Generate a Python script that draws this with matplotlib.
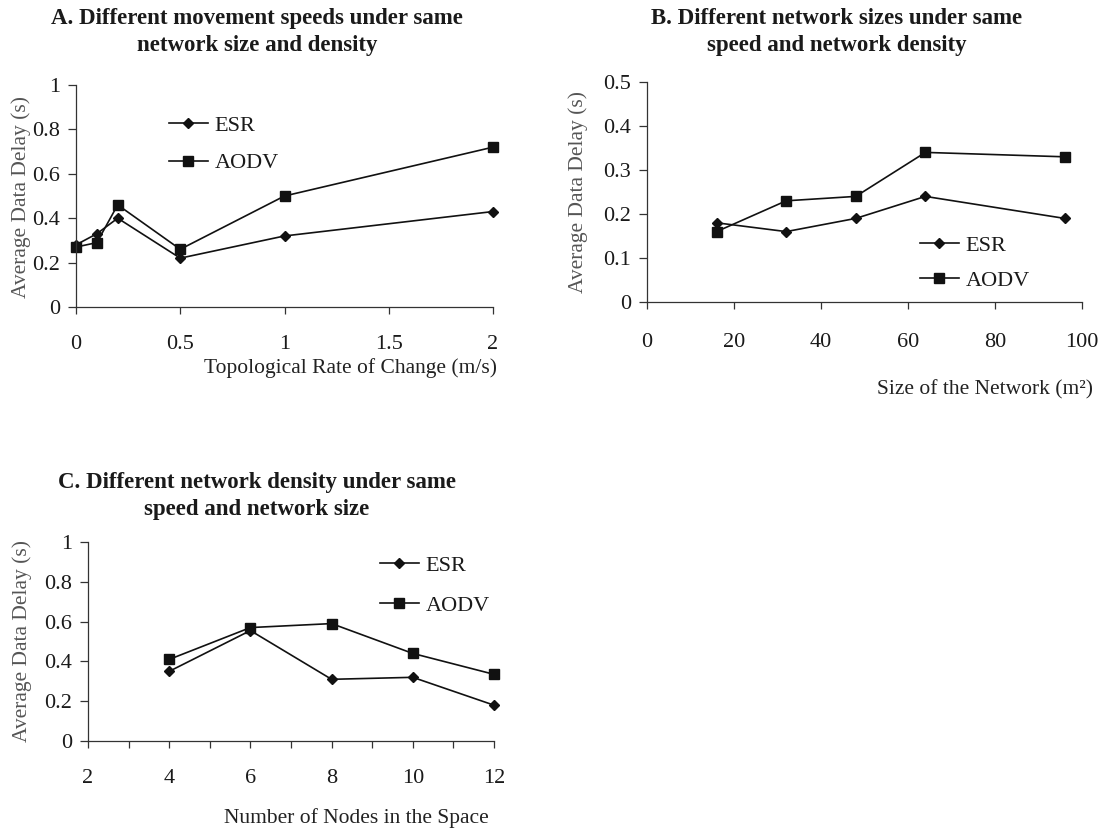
import matplotlib
matplotlib.use("Agg")
import matplotlib.pyplot as plt
from matplotlib.ticker import MultipleLocator, FuncFormatter

plt.rcParams["font.family"] = ["Liberation Serif", "DejaVu Serif"]

# ---- data -------------------------------------------------------------
series_names = ["ESR", "AODV"]

speed_x = [0, 0.1, 0.2, 0.5, 1, 2]
speed_esr = [0.28, 0.33, 0.40, 0.22, 0.32, 0.43]
speed_aodv = [0.27, 0.29, 0.46, 0.26, 0.50, 0.72]

size_x = [16, 32, 48, 64, 96]
size_esr = [0.18, 0.16, 0.19, 0.24, 0.19]
size_aodv = [0.16, 0.23, 0.24, 0.34, 0.33]

nodes_x = [4, 6, 8, 10, 12]
nodes_esr = [0.35, 0.555, 0.31, 0.32, 0.18]
nodes_aodv = [0.41, 0.57, 0.59, 0.44, 0.335]

titles = [
    "A. Different movement speeds under same\nnetwork size and density",
    "B. Different network sizes under same\nspeed and network density",
    "C. Different network density under same\nspeed and network size",
]
xlabels = [
    "Topological Rate of Change (m/s)",
    "Size of the Network (m\u00b2)",
    "Number of Nodes in the Space",
]
ylabel = "Average Data Delay (s)"

# ---- figure -----------------------------------------------------------
W, H = 1108, 832
fig = plt.figure(figsize=(W / 100, H / 100), dpi=100)


def px_axes(x0, y0, x1, y1):
    """Axes from pixel box (top-left origin)."""
    return fig.add_axes([x0 / W, 1 - y1 / H, (x1 - x0) / W, (y1 - y0) / H])


def ftext(x, y, s, **kw):
    fig.text(x / W, 1 - y / H, s, **kw)


fmt = FuncFormatter(lambda v, p: f"{v:g}")
LINE = "#111111"
TICK_COLOR = "#1a1a1a"
LABEL_GRAY = "#555555"


def style(ax, xlim, ylim, xmajor, ymajor, xminor=None, xpad=14):
    ax.set_xlim(*xlim)
    ax.set_ylim(*ylim)
    ax.xaxis.set_major_locator(MultipleLocator(xmajor))
    ax.yaxis.set_major_locator(MultipleLocator(ymajor))
    if xminor:
        ax.xaxis.set_minor_locator(MultipleLocator(xminor))
        ax.tick_params(axis="x", which="minor", direction="out", length=5,
                       width=0.9, color="#333333")
    ax.xaxis.set_major_formatter(fmt)
    ax.yaxis.set_major_formatter(fmt)
    for s in ("top", "right"):
        ax.spines[s].set_visible(False)
    for s in ("left", "bottom"):
        ax.spines[s].set_linewidth(0.9)
        ax.spines[s].set_color("#333333")
    ax.tick_params(axis="y", direction="out", length=5.5, width=0.9,
                   color="#333333", labelsize=16, labelcolor=TICK_COLOR, pad=6)
    ax.tick_params(axis="x", direction="out", length=5, width=0.9,
                   color="#333333", labelsize=16, labelcolor=TICK_COLOR,
                   pad=xpad)
    ax.patch.set_alpha(0)


def draw(ax, x, esr, aodv):
    h1, = ax.plot(x, esr, color=LINE, lw=1.2, marker="D", ms=5.3,
                  mfc=LINE, mec=LINE, clip_on=False, label=series_names[0])
    h2, = ax.plot(x, aodv, color=LINE, lw=1.2, marker="s", ms=7,
                  mfc=LINE, mec=LINE, clip_on=False, label=series_names[1])
    return [h1, h2]


def legend(ax, handles, x, y, spacing=0.78):
    leg = ax.legend(handles=handles, loc="upper left",
                    bbox_to_anchor=(x / W, 1 - y / H),
                    bbox_transform=fig.transFigure, frameon=False,
                    fontsize=16, handlelength=1.75, handletextpad=0.3,
                    labelspacing=spacing, borderpad=0, borderaxespad=0)
    for t in leg.get_texts():
        t.set_color(TICK_COLOR)


# Panel A
axA = px_axes(76, 85, 493, 307)
style(axA, (0, 2), (0, 1), 0.5, 0.2, xpad=15)
hA = draw(axA, speed_x, speed_esr, speed_aodv)
legend(axA, hA, 169, 115)

# Panel B
axB = px_axes(647, 82, 1082, 302)
style(axB, (0, 100), (0, 0.5), 20, 0.1, xpad=17)
hB = draw(axB, size_x, size_esr, size_aodv)
legend(axB, hB, 920, 235, spacing=0.68)

# Panel C
axC = px_axes(88, 542, 494, 741)
style(axC, (2, 12), (0, 1), 2, 0.2, xminor=1, xpad=15)
hC = draw(axC, nodes_x, nodes_esr, nodes_aodv)
legend(axC, hC, 380, 555, spacing=0.88)

# Titles
title_kw = dict(ha="center", va="top", fontsize=16.5, fontweight="bold",
                color="#1a1a1a", linespacing=1.38)
ftext(257, 8, titles[0], **title_kw)
ftext(837, 8, titles[1], **title_kw)
ftext(257, 472, titles[2], **title_kw)

# Axis labels
xl_kw = dict(va="center", fontsize=15.5, color="#222222")
ftext(351, 368, xlabels[0], ha="center", **xl_kw)
ftext(985, 390, xlabels[1], ha="center", **xl_kw)
ftext(356, 818, xlabels[2], ha="center", **xl_kw)

yl_kw = dict(ha="center", va="center", rotation=90, fontsize=15.5,
             color=LABEL_GRAY)
ftext(21, 197, ylabel, **yl_kw)
ftext(578, 192, ylabel, **yl_kw)
ftext(22, 641, ylabel, **yl_kw)

fig.savefig("out.png", dpi=100)
